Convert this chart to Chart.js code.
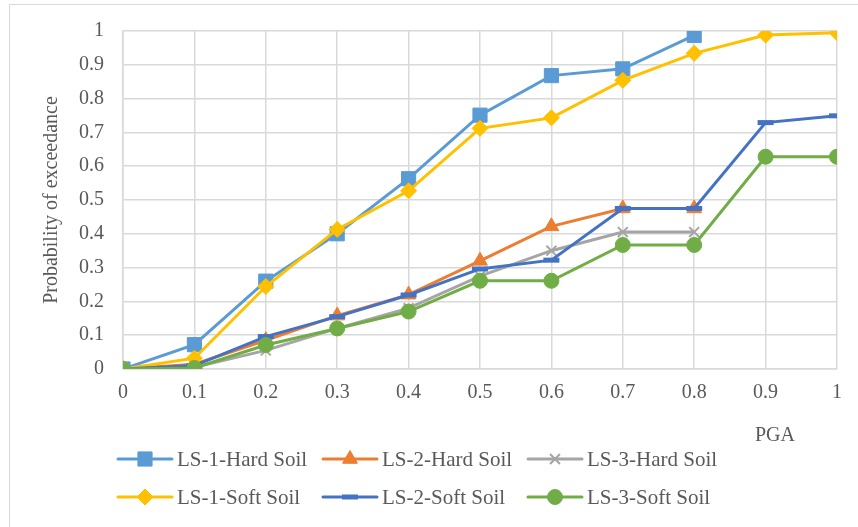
<!DOCTYPE html>
<html>
<head>
<meta charset="utf-8">
<script src="https://cdn.jsdelivr.net/npm/chart.js@4/dist/chart.umd.min.js"></script>
<style>
html,body{margin:0;padding:0;background:#fff;overflow:hidden;width:858px;height:527px;}
#frame{position:absolute;left:9px;top:4px;width:1000px;height:1000px;border:1px solid #d9d9d9;box-sizing:border-box;}
#c{position:absolute;left:0;top:0;}
</style>
</head>
<body>
<div id="frame"></div>
<canvas id="c" width="858" height="527"></canvas>
<script>
const pga = [0, 0.1, 0.2, 0.3, 0.4, 0.5, 0.6, 0.7, 0.8, 0.9, 1];
const ls1Hard = [0, 0.072, 0.26, 0.40, 0.563, 0.751, 0.868, 0.888, 0.987, null, null];
const ls2Hard = [0, 0.014, 0.085, 0.158, 0.22, 0.32, 0.422, 0.475, 0.475, null, null];
const ls3Hard = [0, 0.005, 0.055, 0.12, 0.18, 0.275, 0.35, 0.405, 0.405, null, null];
const ls1Soft = [0, 0.032, 0.244, 0.413, 0.527, 0.712, 0.743, 0.854, 0.934, 0.988, 0.995];
const ls2Soft = [0, 0.01, 0.096, 0.155, 0.219, 0.296, 0.322, 0.475, 0.475, 0.729, 0.749];
const ls3Soft = [0, 0.003, 0.071, 0.12, 0.17, 0.261, 0.261, 0.367, 0.367, 0.628, 0.628];
const seriesNames = ['LS-1-Hard Soil','LS-2-Hard Soil','LS-3-Hard Soil','LS-1-Soft Soil','LS-2-Soft Soil','LS-3-Soft Soil'];
const yTitle = 'Probability of exceedance';
const xTitle = 'PGA';

const FONT = '"Liberation Serif", "Times New Roman", serif';
const TXT = '#595959';
const styles = [
  {color:'#5B9BD5', pointStyle:'rect', radius:10, bw:1},
  {color:'#ED7D31', pointStyle:'triangle', radius:8.5, bw:1},
  {color:'#A5A5A5', pointStyle:'crossRot', radius:7, bw:2},
  {color:'#FFC000', pointStyle:'rectRot', radius:8, bw:1},
  {color:'#4472C4', pointStyle:'line', radius:8, bw:5},
  {color:'#70AD47', pointStyle:'circle', radius:7.5, bw:1}
];
const allSeries = [ls1Hard, ls2Hard, ls3Hard, ls1Soft, ls2Soft, ls3Soft];

function toPoints(arr){
  const out = [];
  arr.forEach((v,i)=>{ if(v!==null) out.push({x:pga[i], y:v}); });
  return out;
}

const datasets = allSeries.map((s,i)=>({
  label: seriesNames[i],
  data: toPoints(s),
  borderColor: styles[i].color,
  backgroundColor: styles[i].color,
  borderWidth: 3,
  pointStyle: styles[i].pointStyle,
  pointRadius: styles[i].radius,
  pointHoverRadius: styles[i].radius,
  pointBackgroundColor: styles[i].color,
  pointBorderColor: styles[i].color,
  pointBorderWidth: styles[i].bw,
  tension: 0,
  order: 10 - i
}));

function drawMarker(ctx, st, x, y){
  ctx.save();
  ctx.fillStyle = st.color; ctx.strokeStyle = st.color; ctx.lineWidth = st.bw;
  const r = st.radius;
  ctx.beginPath();
  if (st.pointStyle==='rect'){ const s=Math.SQRT1_2*r; ctx.rect(x-s,y-s,2*s,2*s); ctx.fill(); ctx.stroke(); }
  else if (st.pointStyle==='triangle'){
    for(let k=0;k<3;k++){ const a=-Math.PI/2+k*2*Math.PI/3; const px=x+Math.cos(a)*r, py=y+Math.sin(a)*r; k?ctx.lineTo(px,py):ctx.moveTo(px,py);} ctx.closePath(); ctx.fill(); ctx.stroke(); }
  else if (st.pointStyle==='crossRot'){ const d=Math.SQRT1_2*r; ctx.moveTo(x-d,y-d);ctx.lineTo(x+d,y+d);ctx.moveTo(x+d,y-d);ctx.lineTo(x-d,y+d);ctx.stroke(); }
  else if (st.pointStyle==='rectRot'){ ctx.moveTo(x,y-r);ctx.lineTo(x+r,y);ctx.lineTo(x,y+r);ctx.lineTo(x-r,y);ctx.closePath();ctx.fill();ctx.stroke(); }
  else if (st.pointStyle==='line'){ ctx.moveTo(x-r,y);ctx.lineTo(x+r,y);ctx.stroke(); }
  else if (st.pointStyle==='circle'){ ctx.arc(x,y,r,0,Math.PI*2); ctx.fill(); ctx.stroke(); }
  ctx.restore();
}

const extras = {
  id:'extras',
  afterDraw(chart){
    const ctx = chart.ctx;
    ctx.save();
    ctx.font = '20px ' + FONT;
    ctx.fillStyle = TXT;
    ctx.textAlign = 'center';
    ctx.textBaseline = 'middle';
    ctx.fillText(xTitle, 775, 436);
    const colX = [118, 323, 528];
    const rowY = [459, 497];
    ctx.font = '21px ' + FONT;
    ctx.textAlign = 'left';
    for (let i=0;i<6;i++){
      const cx = colX[i%3], cy = rowY[Math.floor(i/3)];
      const st = styles[i];
      ctx.save();
      ctx.strokeStyle = st.color; ctx.lineWidth = 3; ctx.lineCap='round';
      ctx.beginPath(); ctx.moveTo(cx, cy); ctx.lineTo(cx+54, cy); ctx.stroke();
      ctx.restore();
      drawMarker(ctx, st, cx+27, cy);
      ctx.fillStyle = TXT;
      ctx.fillText(seriesNames[i], cx+59, cy+1);
    }
    ctx.restore();
  }
};

const fmt = v => { const r = Math.round(v*10)/10; return String(r); };

new Chart(document.getElementById('c'), {
  type:'line',
  data:{datasets},
  options:{
    responsive:false,
    animation:false,
    devicePixelRatio:1,
    layout:{padding:{left:36, top:31, right:21, bottom:0}},
    plugins:{legend:{display:false}, tooltip:{enabled:false}},
    scales:{
      x:{
        type:'linear', min:0, max:1,
        afterFit(s){ s.height = 158; },
        ticks:{stepSize:0.1, callback:fmt, color:TXT, font:{family:FONT, size:20}, padding:12, maxRotation:0, autoSkip:false},
        grid:{color:'#d9d9d9', lineWidth:1.5, drawTicks:false},
        border:{color:'#d9d9d9', width:1.5}
      },
      y:{
        min:0, max:1,
        afterFit(s){ s.width = 123 - 36; },
        ticks:{stepSize:0.1, callback:fmt, color:TXT, font:{family:FONT, size:20}, padding:19},
        grid:{color:'#d9d9d9', lineWidth:1.5, drawTicks:false},
        border:{color:'#d9d9d9', width:1.5},
        title:{display:true, text:yTitle, color:TXT, font:{family:FONT, size:20}, padding:{top:4,bottom:4}}
      }
    }
  },
  plugins:[extras]
});
</script>
</body>
</html>
